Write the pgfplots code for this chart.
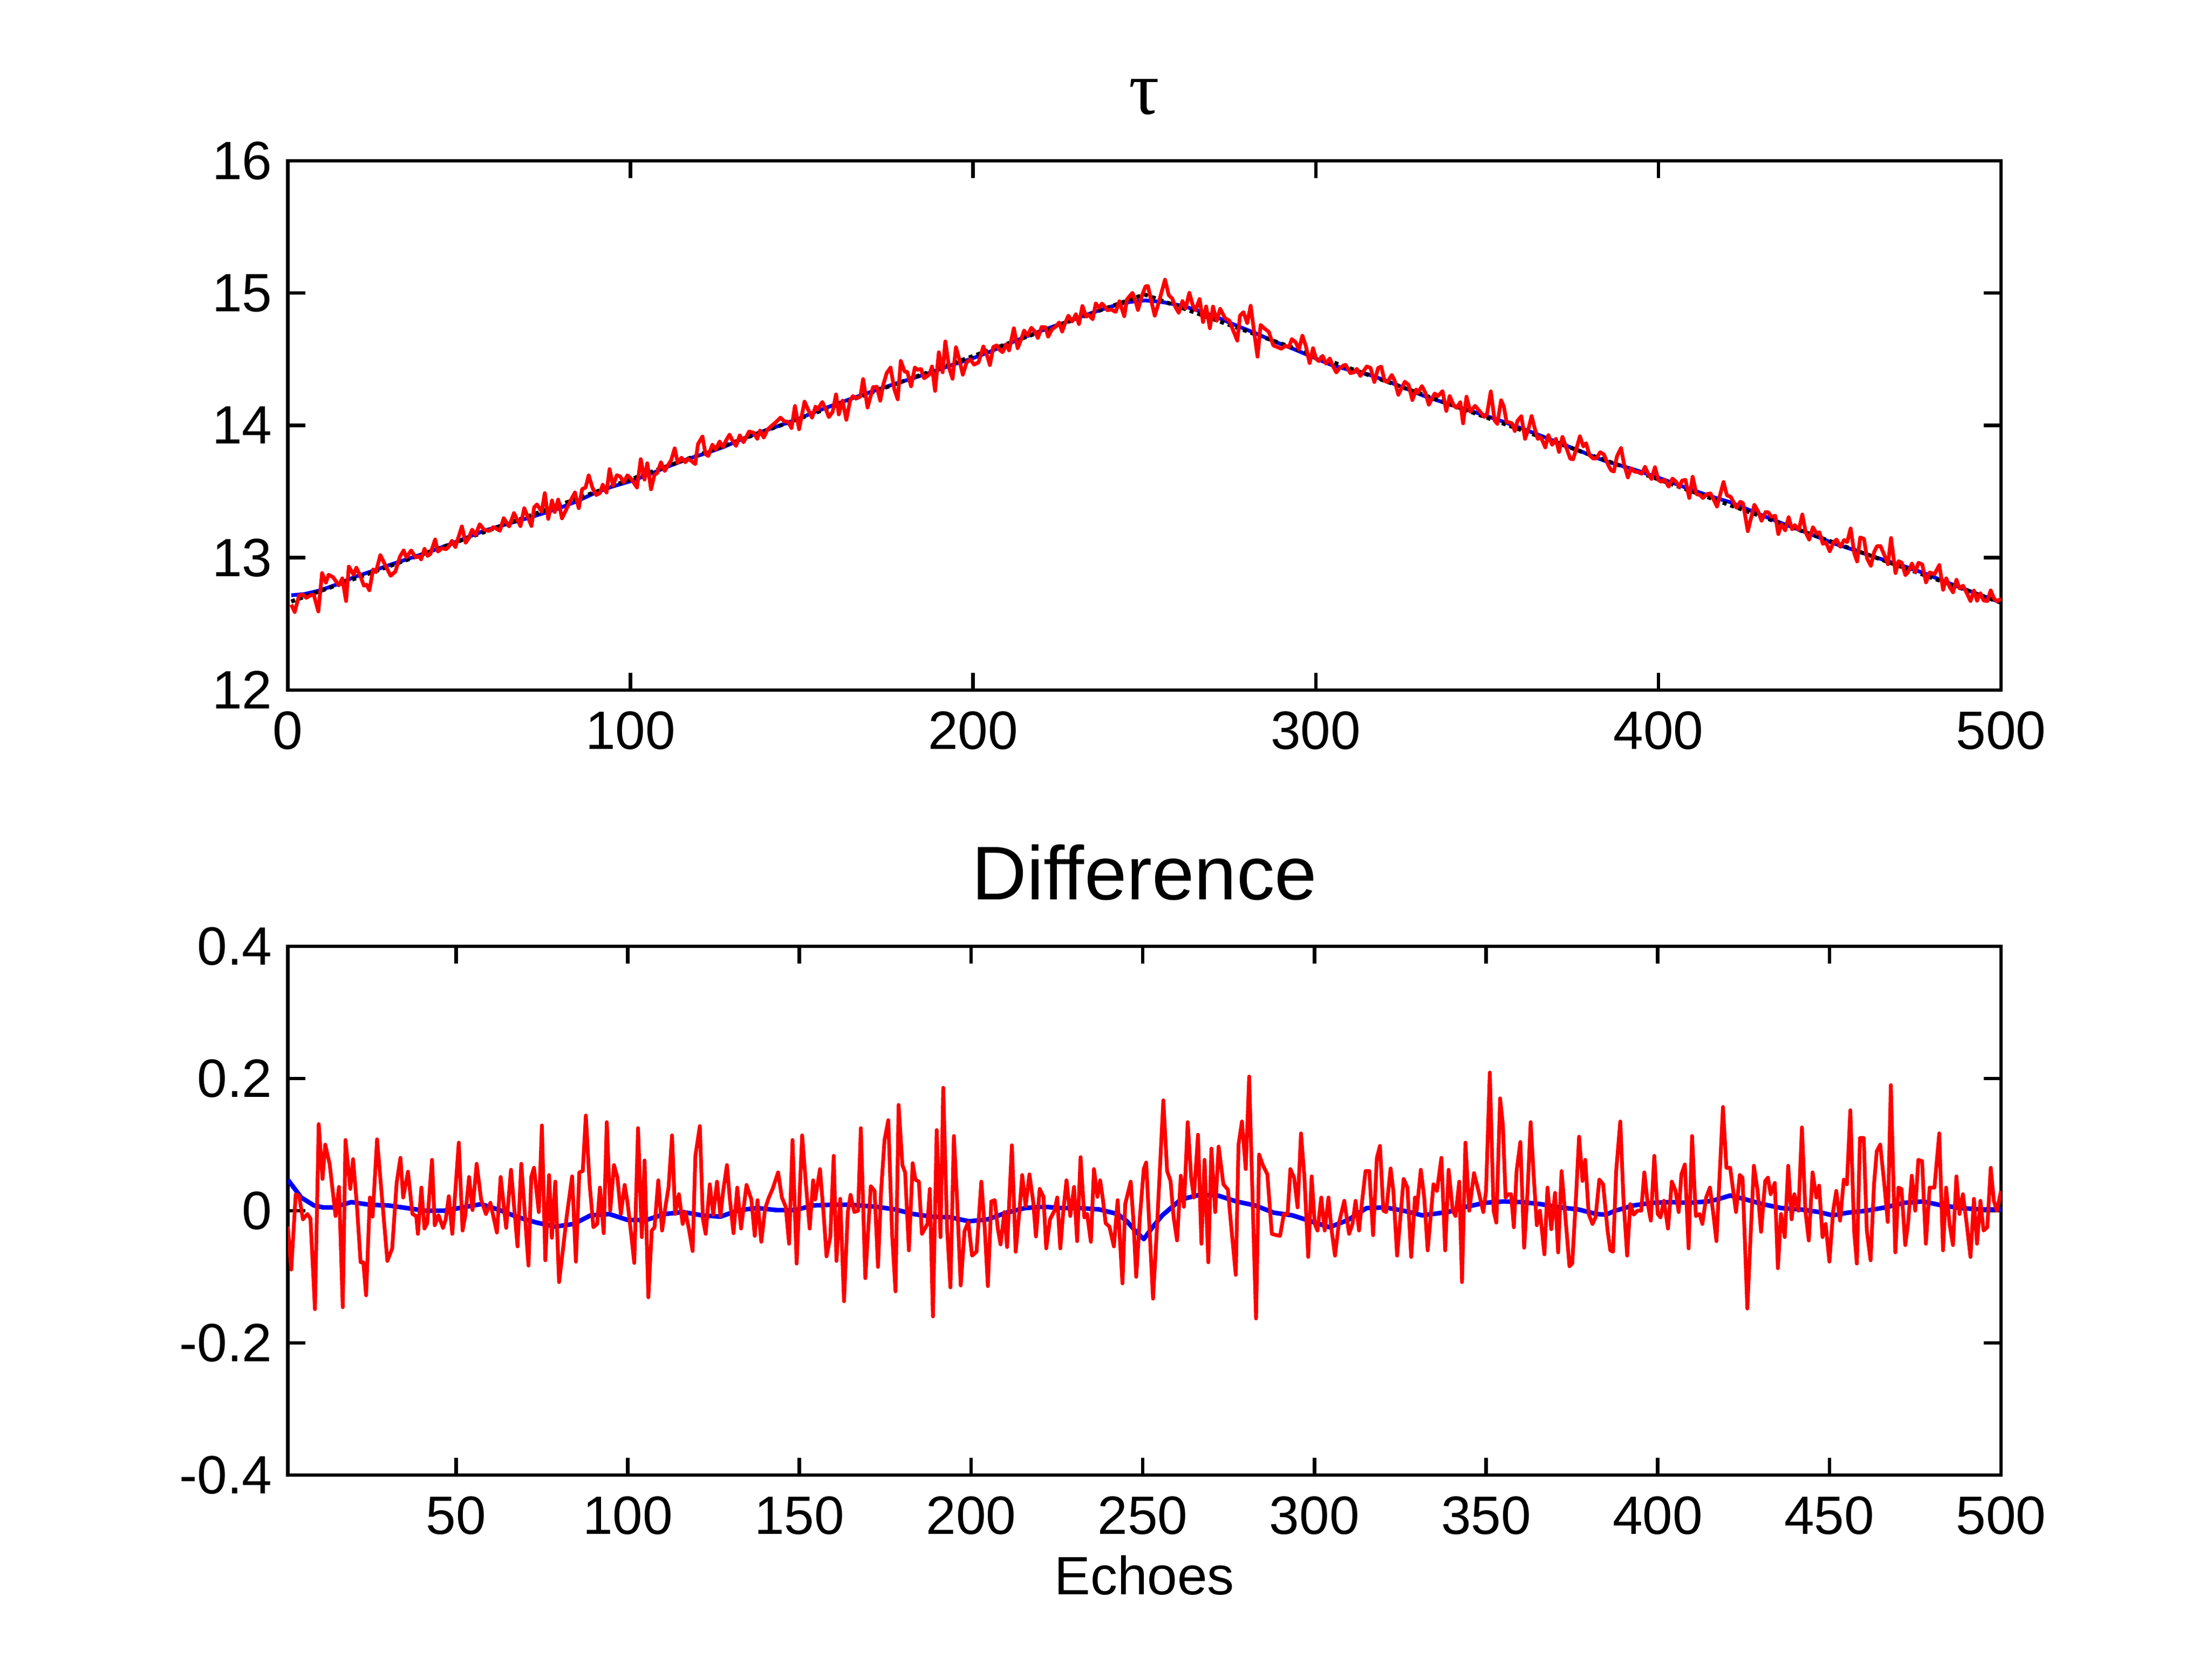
\documentclass[border=0pt]{standalone}
\usepackage{fontspec}
\setmainfont{Liberation Sans}
\newfontfamily\greekfont{Liberation Serif}
\usepackage{pgfplots}
\usepackage{pgfplotstable}
\pgfplotsset{compat=1.18}

% red series: difference (estimate - true)
\pgfplotstableread{
x d
1 -0.024
2 -0.089
3.3 0.025
4.3 0.022
5.4 -0.013
6.7 -0.005
7.6 -0.012
8.9 -0.149
10.0 0.131
11.1 0.048
11.9 0.100
13.2 0.070
14.9 -0.008
15.9 0.036
17.0 -0.146
17.8 0.107
19.2 0.033
20.0 0.078
21.1 0.010
22.2 -0.078
23.0 -0.078
23.8 -0.128
24.9 0.020
25.7 -0.009
27.0 0.108
28.1 0.040
30.0 -0.076
31.4 -0.057
32.7 0.042
33.8 0.080
34.6 0.020
36.0 0.059
37.3 -0.005
38.4 -0.008
38.9 -0.035
39.9 0.035
40.8 -0.027
41.6 -0.019
43.0 0.077
43.8 -0.022
44.9 -0.007
46.2 -0.026
47.0 -0.013
47.9 0.022
48.9 -0.035
50.8 0.103
51.9 -0.030
52.7 -0.007
53.8 0.051
54.8 0.001
56.0 0.071
57.3 0.017
58.7 -0.005
60.0 0.012
61.9 -0.033
63.0 0.051
64.6 -0.026
66.0 0.062
67.9 -0.054
69.0 0.071
71.1 -0.083
71.9 0.051
72.7 0.065
74.1 -0.002
75.0 0.129
76.0 -0.075
77.1 0.054
77.9 -0.041
78.9 0.044
80.0 -0.108
81.1 -0.060
82.2 -0.010
83.8 0.052
84.9 -0.077
85.9 0.058
86.9 0.060
87.8 0.144
88.9 0.040
90.0 -0.025
91.1 -0.020
91.9 0.035
93.0 -0.034
93.9 0.134
94.9 0.000
96.0 0.069
97.0 0.050
98.0 -0.005
99.1 0.039
100.0 0.010
101.1 -0.040
101.9 -0.079
103.0 0.125
104.1 -0.040
104.9 0.076
106.0 -0.131
107.0 -0.030
107.8 -0.025
108.9 0.046
110.0 -0.030
110.8 0.000
111.9 0.036
112.9 0.114
113.8 -0.005
114.9 0.025
116.0 -0.020
116.8 -0.002
117.8 -0.027
118.9 -0.061
119.7 0.083
121.0 0.128
121.9 -0.013
122.7 -0.035
123.9 0.040
124.9 -0.006
126.0 0.044
127.0 -0.008
127.8 0.030
128.9 0.069
129.7 0.020
130.8 -0.034
131.9 0.035
133.0 -0.027
134.6 0.039
136.0 0.017
137.0 -0.038
137.8 0.016
138.9 -0.047
140.0 0.003
141.1 0.020
142.2 0.033
143.8 0.058
144.9 0.020
146.0 0.006
147.0 -0.050
148.0 0.107
149.2 -0.080
150.8 0.114
151.9 0.040
153.0 -0.027
154.0 0.046
154.6 0.017
156.0 0.063
157.1 -0.008
157.9 -0.069
159.0 -0.040
160.0 0.083
160.8 -0.076
161.9 0.018
163.0 -0.137
164.1 -0.002
164.9 0.024
166.0 -0.002
167.1 0.000
167.9 0.125
169.2 -0.102
170.8 0.037
171.9 0.030
172.9 -0.085
173.8 0.030
174.8 0.107
175.9 0.137
177.0 -0.035
178.0 -0.122
178.9 0.160
180.0 0.069
180.8 0.058
181.9 -0.060
183.0 0.072
183.8 0.047
184.8 0.044
185.7 -0.035
187.3 -0.020
188.0 0.033
188.9 -0.160
190.0 0.122
191.1 -0.040
191.9 0.186
193.0 -0.024
194.0 -0.116
195.0 0.113
195.9 0.020
197.0 -0.113
198.1 -0.031
199.2 -0.017
200.3 -0.068
201.6 -0.062
203.0 0.044
204.0 -0.027
204.9 -0.114
205.9 0.014
206.9 0.016
207.8 -0.027
208.6 -0.051
209.7 -0.002
210.5 -0.055
211.9 0.099
213.0 -0.062
214.1 0.000
214.9 0.054
215.9 0.007
217.0 0.055
218.1 0.014
218.9 -0.039
220.0 0.033
221.1 0.021
221.9 -0.057
223.0 -0.013
224.3 0.000
225.1 0.020
226.0 -0.057
226.8 -0.005
227.8 0.046
228.9 -0.008
230.0 0.036
230.9 -0.046
231.9 0.081
233.0 -0.010
233.8 -0.005
234.9 -0.047
235.8 0.063
236.8 0.021
237.6 0.046
238.4 0.017
239.2 -0.019
240.3 -0.024
241.6 -0.054
242.7 0.016
244.1 -0.110
244.9 0.010
246.5 0.044
247.3 -0.016
248.1 -0.100
249.2 -0.008
250.3 0.063
251.0 0.073
253.0 -0.133
254.1 -0.030
256.0 0.167
257.1 0.060
258.1 0.045
259.0 -0.010
260.0 -0.045
261.1 0.053
262.0 0.006
263.1 0.134
264.1 0.050
264.9 0.020
266.1 0.115
267.1 -0.050
268.0 0.077
269.1 -0.078
270.0 0.094
271.1 -0.002
272.1 0.097
273.5 0.040
274.8 0.032
275.7 -0.020
277.1 -0.097
277.9 0.100
278.9 0.135
280.0 0.063
281.0 0.203
282.2 -0.020
283.0 -0.163
283.9 0.085
284.9 0.070
286.3 0.055
287.6 -0.035
288.9 -0.037
290.0 -0.038
291.1 -0.005
292.2 -0.005
293.0 0.063
294.1 0.050
295.1 0.005
296.1 0.117
297.1 0.050
298.2 -0.070
299.2 0.052
300.1 -0.020
300.9 -0.030
302.0 0.020
303.0 -0.030
304.1 0.020
304.9 -0.025
306.0 -0.068
307.1 -0.020
308.7 0.015
310.1 -0.035
311.1 -0.020
312.0 0.015
313.0 -0.030
313.8 0.010
314.9 0.060
316.0 0.060
317.1 -0.037
318.2 0.080
319.1 0.098
320.1 0.000
320.9 -0.002
322.2 0.064
323.0 0.030
324.1 -0.068
326.0 0.048
327.1 0.035
328.2 -0.070
329.3 0.020
329.8 0.000
331.0 0.062
332.0 0.020
333.0 -0.060
334.7 0.040
335.7 0.030
337.0 0.080
338.1 -0.060
339.1 0.062
340.3 0.000
341.1 -0.008
342.2 0.044
343.0 -0.108
344.0 0.103
345.1 0.000
346.5 0.057
347.8 0.030
349.2 -0.002
350.0 0.030
351.1 0.209
352.2 0.000
353.0 -0.018
354.1 0.170
354.9 0.130
355.7 0.020
356.5 0.025
357.3 0.025
358.1 -0.025
358.9 0.060
360.0 0.104
361.1 -0.056
362.1 0.030
363.0 0.134
363.8 0.060
364.8 -0.022
365.7 0.000
367.0 -0.066
367.9 0.035
369.0 -0.028
370.1 0.027
371.0 -0.063
372.0 0.060
372.8 0.010
374.3 -0.084
375.1 -0.080
376.2 0.020
377.1 0.112
378.1 0.045
378.9 0.077
379.9 -0.005
381.0 -0.020
381.9 -0.010
383.0 0.047
384.1 0.040
385.4 -0.030
386.2 -0.060
387.0 -0.062
387.9 0.060
389.1 0.135
390.0 0.020
391.1 -0.068
392.0 0.010
393.0 -0.006
394.1 0.000
395.2 0.000
396.1 0.058
397.1 0.010
398.0 -0.015
399.0 0.083
400.0 -0.005
400.8 -0.010
401.8 0.015
403.0 -0.027
404.1 0.044
405.2 0.030
406.1 -0.002
406.9 0.055
407.9 0.070
409.0 -0.057
410.0 0.113
411.1 -0.008
412.2 -0.005
413.0 -0.020
414.1 0.020
415.2 0.035
416.2 -0.005
417.1 -0.046
419.0 0.157
420.0 0.065
421.1 0.065
422.8 -0.002
423.9 0.054
424.7 0.050
426.1 -0.148
426.9 -0.055
428.0 0.068
429.1 0.030
430.1 -0.032
431.3 0.045
432.1 0.050
432.9 0.025
434.1 0.042
435.0 -0.087
435.9 -0.005
437.0 -0.040
438.0 0.068
439.0 -0.013
439.8 0.025
441.0 0.000
442.0 0.126
443.0 0.000
444.0 -0.045
445.1 0.058
446.2 0.020
447.0 0.038
448.0 -0.040
448.9 -0.020
450.0 -0.077
451.1 0.000
452.0 0.030
453.1 -0.015
454.2 0.047
455.1 0.040
456.1 0.152
457.2 -0.030
458.0 -0.080
458.9 0.110
460.0 0.110
460.9 -0.030
462.0 -0.075
463.0 0.040
463.8 0.090
464.8 0.100
466.0 0.040
467.0 -0.017
467.9 0.190
469.2 -0.063
470.1 0.035
471.0 0.033
472.1 -0.052
472.9 -0.020
474.0 0.053
475.0 0.000
475.9 0.077
477.0 0.075
478.1 -0.050
479.2 0.035
480.6 0.035
482.0 0.117
483.1 -0.060
484.0 0.035
485.0 -0.020
486.0 -0.052
487.0 0.052
487.9 -0.005
488.9 0.025
490.0 -0.020
491.1 -0.070
492.1 0.018
493.0 -0.050
494.0 0.015
494.9 -0.030
496.0 -0.025
497.0 0.065
497.9 0.015
498.8 0.000
500.0 0.030
}\reddiff

% blue series: smoothed estimate minus true
\pgfplotstableread{
x d
1 0.047
4.9 0.020
8.6 0.008
11.3 0.005
14.0 0.005
19.5 0.013
24.9 0.009
30.3 0.008
35.7 0.004
41.0 0.000
46.5 0.000
51.9 0.005
57.3 0.010
62.7 0.001
68.1 -0.010
73.5 -0.018
78.9 -0.024
84.3 -0.020
89.2 -0.007
94.6 -0.005
100.0 -0.014
105.4 -0.014
110.8 -0.005
116.2 -0.002
121.6 -0.007
127.0 -0.009
132.4 0.001
137.8 0.004
143.3 0.001
148.7 0.001
154.1 0.008
159.5 0.009
164.9 0.009
172.4 0.006
177.8 0.002
183.2 -0.005
188.6 -0.009
194.0 -0.010
199.4 -0.016
204.9 -0.013
210.3 -0.003
215.7 0.004
221.1 0.006
226.5 0.004
231.9 0.004
237.3 0.002
242.7 -0.005
245.4 -0.016
248.1 -0.032
250.3 -0.043
253.0 -0.024
255.7 -0.007
261.1 0.017
266.5 0.024
271.9 0.023
277.3 0.014
282.7 0.008
288.2 -0.003
293.6 -0.007
299.0 -0.016
304.4 -0.025
309.8 -0.014
315.2 0.004
320.6 0.005
326.0 0.000
331.4 -0.007
338.9 -0.002
344.3 0.006
349.7 0.012
355.1 0.014
360.5 0.013
365.9 0.010
371.4 0.005
376.8 0.002
382.2 -0.005
384.9 -0.006
387.6 0.000
393.0 0.008
398.4 0.012
403.8 0.013
409.2 0.012
414.6 0.014
417.3 0.017
421.1 0.023
425.0 0.018
430.5 0.010
436.0 0.004
441.5 0.002
447.0 -0.002
450.9 -0.007
455.3 -0.003
460.8 0.000
466.3 0.005
471.8 0.012
477.3 0.014
482.8 0.008
488.3 0.004
493.8 0.002
500.0 0.002
}\bluediff

\pgfplotsset{
  panel/.style={
    scale only axis, width=317.55pt, anchor=south west,
    axis line style={line width=0.65pt},
    tick align=inside, xtick pos=both, ytick pos=both,
    xticklabel pos=lower, yticklabel pos=left,
    major tick length=3.2pt,
    tick style={black, line width=0.65pt},
    tick label style={font=\fontsize{10}{12}\selectfont, inner sep=0pt},
    xticklabel style={anchor=north, yshift=-3.8pt},
    yticklabel style={anchor=east, xshift=-2.7pt},
    /pgf/number format/assume math mode=true,
    title style={at={(0.5,1)}, anchor=base, yshift=2.6pt, inner sep=0pt},
  }
}

\begin{document}
\begin{tikzpicture}
\path[use as bounding box] (0,0) rectangle (410pt,307.3pt);

\begin{axis}[panel, at={(53.35pt,179.4pt)}, height=98.1pt,
  xmin=0, xmax=500, ymin=12, ymax=16,
  xtick={0,100,200,300,400,500}, ytick={12,13,14,15,16},
  title={\fontsize{14.1}{16}\selectfont\greekfont τ}]
\addplot[blue, line width=0.7pt, line join=round]
  table[x=x, y expr={12.66+0.00932*min(\thisrow{x},500-\thisrow{x})+\thisrow{d}}] {\bluediff};
\addplot[black, line width=0.75pt, dash pattern=on 0.75pt off 0.75pt]
  coordinates {(1,12.669) (250,14.99) (500,12.66)};
\addplot[red, line width=0.7pt, line join=round]
  table[x=x, y expr={12.66+0.00932*min(\thisrow{x},500-\thisrow{x})+\thisrow{d}}] {\reddiff};
\end{axis}

\begin{axis}[panel, at={(53.35pt,33.9pt)}, height=98.0pt,
  xmin=1, xmax=500, ymin=-0.4, ymax=0.4,
  xtick={50,100,150,200,250,300,350,400,450,500},
  ytick={-0.4,-0.2,0,0.2,0.4}, yticklabels={-0.4,-0.2,0,0.2,0.4},
  title={\fontsize{14.1}{16}\selectfont Difference},
  xlabel={Echoes},
  xlabel style={at={(axis description cs:0.5,0)}, anchor=base, yshift=-22.2pt,
    inner sep=0pt, font=\fontsize{10}{12}\selectfont}]
\addplot[blue, line width=0.85pt, line join=round] table[x=x, y=d] {\bluediff};
\addplot[red, line width=0.7pt, line join=round] table[x=x, y=d] {\reddiff};
\end{axis}
\end{tikzpicture}
\end{document}
